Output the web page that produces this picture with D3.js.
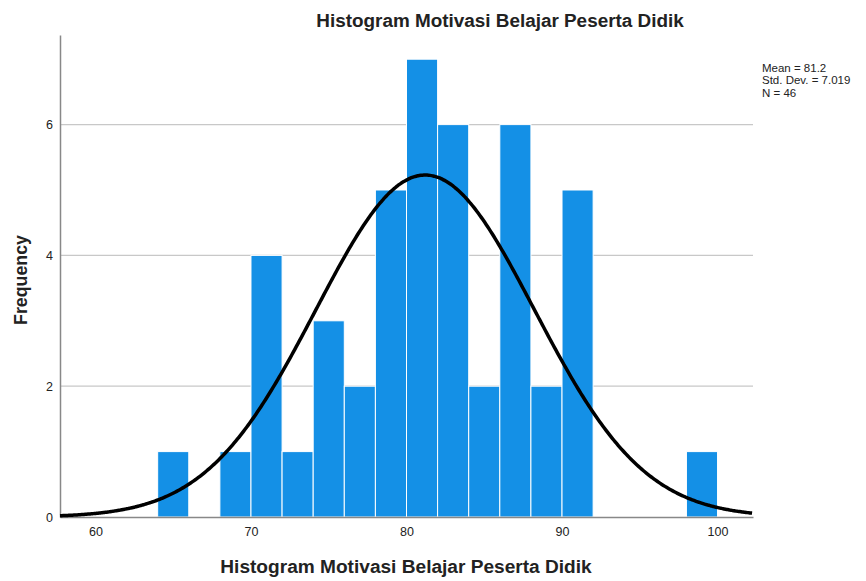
<!DOCTYPE html>
<html>
<head>
<meta charset="utf-8">
<script src="https://cdn.jsdelivr.net/npm/d3@7"></script>
<style>
  body { margin: 0; background: #fff; }
  text { font-family: "Liberation Sans", Arial, sans-serif; }
</style>
</head>
<body>
<svg id="hist"></svg>
<script>
// bins of width 2 (lower edge) and their counts
var binStarts = [64, 68, 70, 72, 74, 76, 78, 80, 82, 84, 86, 88, 90, 98];
var counts    = [1, 1, 4, 1, 3, 2, 5, 7, 6, 2, 6, 2, 5, 1];
var xTicks = [60, 70, 80, 90, 100];
var yTicks = [0, 2, 4, 6];
var stats = { mean: 81.2, sd: 7.019, n: 46 };
var binWidth = 2;

var W = 866, H = 581;
var svg = d3.select('#hist').attr('width', W).attr('height', H);

var x = d3.scaleLinear().domain([57.72, 102.28]).range([60, 753]);
var y = d3.scaleLinear().domain([0, 7.37]).range([517, 35]);

// gridlines
svg.append('g')
  .selectAll('line')
  .data(yTicks.filter(d => d > 0))
  .enter().append('line')
    .attr('x1', 60).attr('x2', 753)
    .attr('y1', d => y(d)).attr('y2', d => y(d))
    .attr('stroke', '#c8c8c8').attr('stroke-width', 1.2);

// bars
svg.append('g')
  .selectAll('rect')
  .data(binStarts)
  .enter().append('rect')
    .attr('x', d => x(d))
    .attr('width', d => x(d + binWidth) - x(d))
    .attr('y', (d, i) => y(counts[i]))
    .attr('height', (d, i) => y(0) - y(counts[i]))
    .attr('fill', '#1490e6')
    .attr('stroke', '#ffffff').attr('stroke-width', 1);

// axes
var xAxis = d3.axisBottom(x).tickValues(xTicks).tickSize(0).tickPadding(10);
var gX = svg.append('g').attr('transform', 'translate(0,' + y(0) + ')').call(xAxis);
gX.select('.domain').attr('stroke', '#888').attr('stroke-width', 1.5);
gX.selectAll('text').attr('font-size', 12.5).attr('fill', '#222')
  .style('font-family', '"Liberation Sans", Arial, sans-serif');

var yAxis = d3.axisLeft(y).tickValues(yTicks).tickSize(0).tickPadding(7);
var gY = svg.append('g').attr('transform', 'translate(60,0)').call(yAxis);
gY.select('.domain').attr('stroke', '#888').attr('stroke-width', 1.5);
gY.selectAll('text').attr('font-size', 12.5).attr('fill', '#222')
  .style('font-family', '"Liberation Sans", Arial, sans-serif');

// normal curve
var peak = stats.n * binWidth / (stats.sd * Math.sqrt(2 * Math.PI));
var curveX = d3.range(57.72, 102.29, 0.1);
var line = d3.line()
  .x(d => x(d))
  .y(d => y(peak * Math.exp(-0.5 * Math.pow((d - stats.mean) / stats.sd, 2))))
  .curve(d3.curveBasis);
svg.append('path')
  .datum(curveX)
  .attr('d', line)
  .attr('fill', 'none')
  .attr('stroke', '#000')
  .attr('stroke-width', 3.5);

// titles
svg.append('text')
  .attr('x', 500).attr('y', 27)
  .attr('text-anchor', 'middle')
  .attr('font-size', 18.9).attr('font-weight', 'bold').attr('fill', '#222')
  .text('Histogram Motivasi Belajar Peserta Didik');

svg.append('text')
  .attr('x', 406).attr('y', 573)
  .attr('text-anchor', 'middle')
  .attr('font-size', 19.1).attr('font-weight', 'bold').attr('fill', '#222')
  .text('Histogram Motivasi Belajar Peserta Didik');

svg.append('text')
  .attr('transform', 'translate(27,280) rotate(-90)')
  .attr('text-anchor', 'middle')
  .attr('font-size', 17.8).attr('font-weight', 'bold').attr('fill', '#222')
  .text('Frequency');

// stats box
var statLines = ['Mean = ' + stats.mean, 'Std. Dev. = ' + stats.sd, 'N = ' + stats.n];
svg.append('g')
  .selectAll('text')
  .data(statLines)
  .enter().append('text')
    .attr('x', 762).attr('y', (d, i) => 71.5 + i * 12.5)
    .attr('font-size', 11.5).attr('fill', '#222')
    .text(d => d);
</script>
</body>
</html>
